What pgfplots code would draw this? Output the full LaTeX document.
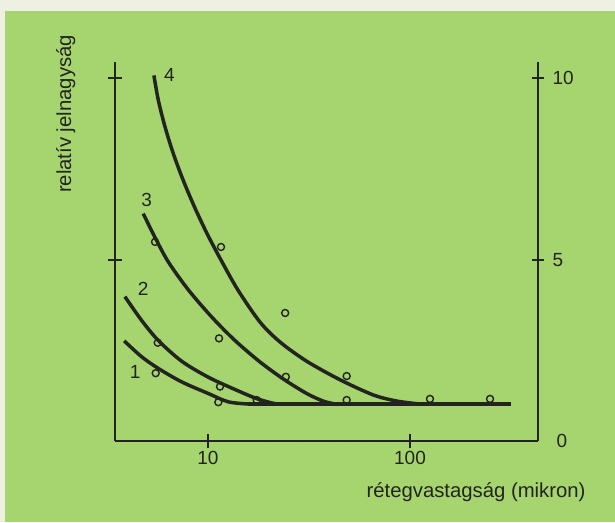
\documentclass[border=0pt]{standalone}
\usepackage{pgfplots}
\pgfplotsset{compat=1.18}
\usepackage{fontspec}
\setmainfont{Liberation Sans}
\definecolor{paper}{RGB}{238,240,226}
\definecolor{leaf}{RGB}{166,213,112}
\definecolor{ink}{RGB}{34,36,32}

\begin{document}
\begin{tikzpicture}
\fill[paper] (0pt,0pt) rectangle (615pt,522pt);
\fill[leaf] (5pt,0pt) rectangle (615pt,511pt);

\begin{axis}[
  at={(115pt,81pt)}, anchor=south west,
  scale only axis, width=423pt, height=379pt,
  xmode=log, xmin=3.465, xmax=430.3, ymin=0, ymax=10.45,
  axis x line*=bottom, axis y line*=left,
  axis line style={-, line width=2pt, draw=ink},
  xtick={10,100}, xticklabels={10,100},
  ytick={5,10}, yticklabels={},
  minor xtick={}, minor ytick={},
  tick align=center, major tick length=14pt,
  tick style={line width=1.8pt, draw=ink},
  ticklabel style={font=\fontsize{19}{21}\selectfont, text=ink},
  clip=false,
]
% curve 1 and the common baseline
\addplot[ink, line width=3.5pt, smooth, mark=none] coordinates {(3.85,2.76) (4.70,2.32) (5.68,2.00) (7.41,1.63) (10.03,1.31) (12.6,1.08) (15.8,1.02)};
\addplot[ink, line width=3.5pt, mark=none] coordinates {(15.8,1.02) (316,1.02)};
% curve 2
\addplot[ink, line width=3.5pt, smooth, mark=none] coordinates {(3.88,3.98) (4.70,3.32) (5.68,2.77) (7.41,2.20) (10.03,1.76) (13.61,1.42) (17.42,1.17) (21.5,1.03) (25,1.02)};
% curve 3
\addplot[ink, line width=3.5pt, smooth, mark=none] coordinates {(4.78,6.27) (5.47,5.61) (6.36,4.94) (7.99,4.17) (10.43,3.42) (13.61,2.77) (18.09,2.18) (23.6,1.71) (30.8,1.31) (37.2,1.10) (42.5,1.02)};
% curve 4
\addplot[ink, line width=3.5pt, smooth, mark=none] coordinates {(5.40,10.08) (5.68,9.39) (6.13,8.66) (6.73,7.93) (7.54,7.19) (8.58,6.45) (9.89,5.72) (11.6,4.99) (14.08,4.16) (18.09,3.28) (22.72,2.73) (30.8,2.20) (45.0,1.69) (65.8,1.27) (86.2,1.10) (112,1.02)};
% measured points
\addplot[only marks, mark=o, mark size=3.5pt, mark options={line width=1.4pt, draw=ink}] coordinates {
(5.47,5.49) (5.64,2.71) (5.51,1.87)
(11.6,5.35) (11.34,2.83) (11.47,1.50) (11.25,1.07)
(17.42,1.13) (24.1,3.53) (24.3,1.77)
(48.6,1.79) (48.6,1.13) (125.6,1.16) (249,1.16)};
\node[text=ink, font=\fontsize{19}{21}\selectfont] at (axis cs:6.45,10.08) {4};
\node[text=ink, font=\fontsize{19}{21}\selectfont] at (axis cs:4.97,6.64) {3};
\node[text=ink, font=\fontsize{19}{21}\selectfont] at (axis cs:4.78,4.20) {2};
\node[text=ink, font=\fontsize{19}{21}\selectfont] at (axis cs:4.36,1.91) {1};
\end{axis}

\begin{axis}[
  at={(115pt,81pt)}, anchor=south west,
  scale only axis, width=423pt, height=379pt,
  xmin=0, xmax=1, ymin=0, ymax=10.45,
  axis x line=none, axis y line*=right,
  axis line style={-, line width=2pt, draw=ink},
  ytick={5,10}, yticklabels={5,10},
  tick align=center, major tick length=12pt,
  tick style={line width=1.8pt, draw=ink},
  ticklabel style={font=\fontsize{19}{21}\selectfont, text=ink},
  yticklabel style={xshift=5pt},
  clip=false,
]
\node[anchor=west, text=ink, font=\fontsize{19}{21}\selectfont, xshift=15pt] at (rel axis cs:1,0) {0};
\end{axis}

\node[anchor=base east, text=ink, font=\fontsize{20.3}{23}\selectfont] at (589pt,25pt) {rétegvastagság (mikron)};
\node[rotate=90, anchor=base, text=ink, font=\fontsize{20.3}{23}\selectfont] at (71pt,408pt) {relatív jelnagyság};
\end{tikzpicture}
\end{document}
